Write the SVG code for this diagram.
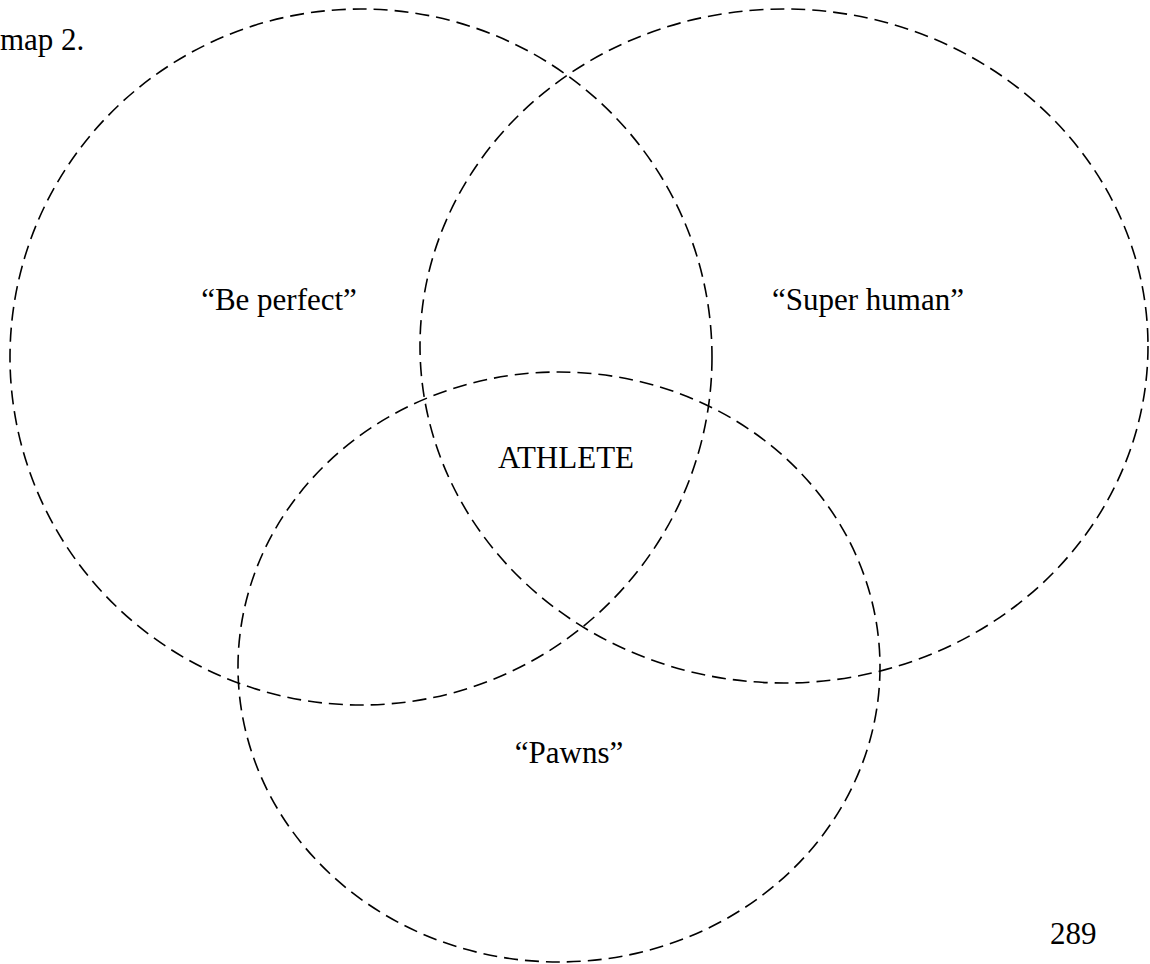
<svg xmlns="http://www.w3.org/2000/svg" width="1150" height="964" viewBox="0 0 1150 964">
<style>
.c{fill:none;stroke:#000;stroke-width:1.6;stroke-dasharray:14 7}
.t{font-family:"Liberation Serif",serif;font-size:31px;fill:#000}
.m{text-anchor:middle}
</style>
<rect width="1150" height="964" fill="#fff"/>
<text class="t" x="0" y="50">map 2.</text>
<g id="connectors"></g>
<g id="left"><ellipse class="c" cx="361" cy="357" rx="351" ry="348"/><text class="t m" x="279" y="310">“Be perfect”</text></g>
<g id="right"><ellipse class="c" cx="784" cy="346" rx="364" ry="337"/><text class="t m" x="868" y="310">“Super human”</text></g>
<g id="bottom"><ellipse class="c" cx="559" cy="667" rx="321" ry="295"/><text class="t m" x="569" y="763">“Pawns”</text></g>
<g id="center"><text class="t m" x="566" y="468">ATHLETE</text></g>
<text class="t" x="1050" y="944">289</text>
</svg>
